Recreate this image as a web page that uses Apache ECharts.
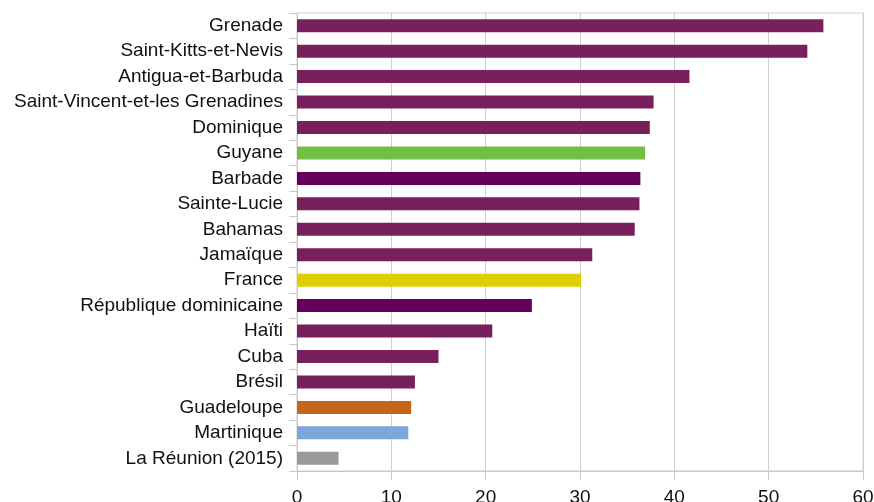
<!DOCTYPE html>
<html>
<head>
<meta charset="utf-8">
<title>Bar chart</title>
<script src="https://cdn.jsdelivr.net/npm/echarts@6/dist/echarts.min.js"></script>
<style>
  html, body { margin: 0; padding: 0; background: #fff; }
  #main { width: 874px; height: 502px; }
</style>
</head>
<body>
<div id="main"></div>
<script>
// pays, du haut vers le bas
var pays = ['Grenade', 'Saint-Kitts-et-Nevis', 'Antigua-et-Barbuda', 'Saint-Vincent-et-les Grenadines',
  'Dominique', 'Guyane', 'Barbade', 'Sainte-Lucie', 'Bahamas', 'Jamaïque', 'France',
  'République dominicaine', 'Haïti', 'Cuba', 'Brésil', 'Guadeloupe', 'Martinique', 'La Réunion (2015)'];
var valeurs = [55.8, 54.1, 41.6, 37.8, 37.4, 36.9, 36.4, 36.3, 35.8, 31.3, 30.1,
  24.9, 20.7, 15.0, 12.5, 12.1, 11.8, 4.4];
var couleurs = ['#77205b', '#77205b', '#77205b', '#77205b', '#77205b', '#72bf44', '#66005a', '#77205b',
  '#77205b', '#77205b', '#e0cf00', '#66005a', '#77205b', '#77205b', '#77205b', '#c46519', '#7ba7da', '#999999'];
var ticksX = [0, 10, 20, 30, 40, 50, 60];

var chart = echarts.init(document.getElementById('main'));
chart.setOption({
  animation: false,
  textStyle: { fontFamily: 'Liberation Sans' },
  grid: {
    left: 297, right: 11, top: 13, bottom: 31,
    outerBoundsMode: 'none', containLabel: false,
    show: true, borderColor: '#d0d0d0', borderWidth: 1
  },
  xAxis: {
    type: 'value',
    min: ticksX[0], max: ticksX[ticksX.length - 1], interval: 10,
    axisLine: { show: true, lineStyle: { color: '#c8c8c8' } },
    axisTick: { show: true, length: 9, lineStyle: { color: '#c8c8c8' } },
    axisLabel: { color: '#111', fontSize: 19, margin: 17 },
    splitLine: { show: true, lineStyle: { color: '#d0d0d0' } }
  },
  yAxis: {
    type: 'category',
    data: pays,
    inverse: true,
    axisLine: { show: true, lineStyle: { color: '#c8c8c8' } },
    axisTick: { show: true, length: 8, lineStyle: { color: '#c8c8c8' } },
    axisLabel: { color: '#111', fontSize: 19, margin: 14 },
    splitLine: { show: false }
  },
  series: [{
    type: 'bar',
    barWidth: 13,
    data: valeurs.map(function (v, i) {
      return { value: v, itemStyle: { color: couleurs[i] } };
    })
  }]
});
</script>
</body>
</html>
